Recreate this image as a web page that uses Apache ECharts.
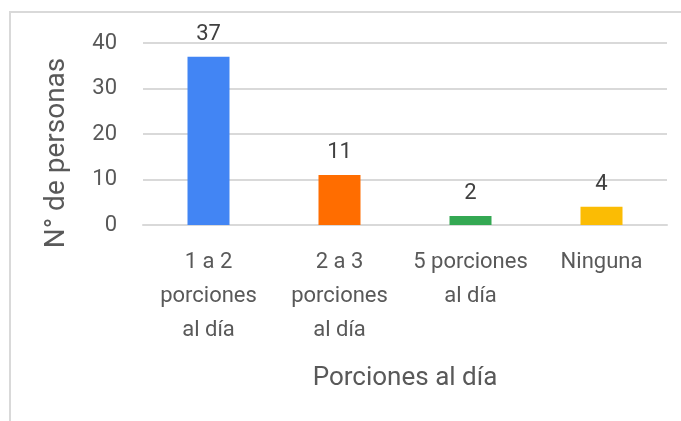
<!DOCTYPE html>
<html><head><meta charset="utf-8">
<script src="https://cdn.jsdelivr.net/npm/echarts@6/dist/echarts.min.js"></script>
<style>html,body{margin:0;padding:0;background:#fff}
#frame{position:absolute;left:9px;top:11px;width:680px;height:420px;border-left:2px solid #d9d9d9;border-top:2px solid #d9d9d9}
#c{position:absolute;left:0;top:0;width:681px;height:421px}</style>
</head><body><div id="frame"></div><div id="c"></div>
<script>
const categories = ['1 a 2\nporciones\nal día', '2 a 3\nporciones\nal día', '5 porciones\nal día', 'Ninguna'];
const values = [37, 11, 2, 4];
const barColors = ['#4285F4', '#FF6D00', '#34A853', '#FBBC04'];
const yTicks = [0, 10, 20, 30, 40];

const font = 'Roboto';
const txt = '#595959';
const chart = echarts.init(document.getElementById('c'), null, {renderer: 'canvas'});
chart.setOption({
  animation: false,
  grid: {left: 143, right: 14, top: 43, bottom: 196, containLabel: false},
  xAxis: {
    type: 'category', data: categories,
    name: 'Porciones al día', nameLocation: 'middle', nameGap: 140,
    nameTextStyle: {fontFamily: font, fontSize: 26, color: txt},
    axisLine: {show: true, lineStyle: {color: '#d9d9d9', width: 2}},
    axisTick: {show: false},
    axisLabel: {fontFamily: font, fontSize: 22, color: txt, lineHeight: 34, margin: 20, interval: 0}
  },
  yAxis: {
    type: 'value', min: 0, max: 40, interval: 10,
    name: 'N° de personas', nameLocation: 'middle', nameGap: 72,
    nameTextStyle: {fontFamily: font, fontSize: 28, color: txt, padding: [0, 38, 0, 0]},
    axisLine: {show: false}, axisTick: {show: false},
    splitLine: {lineStyle: {color: '#d9d9d9', width: 2}},
    axisLabel: {fontFamily: font, fontSize: 22, color: txt, margin: 26,
      formatter: v => yTicks.includes(v) ? String(v) : ''}
  },
  series: [{
    type: 'bar', barWidth: 42,
    data: values.map((v, i) => ({value: v, itemStyle: {color: barColors[i]}})),
    label: {show: true, position: 'top', distance: 11, fontFamily: font, fontSize: 22, color: '#404040'}
  }]
});
</script></body></html>
